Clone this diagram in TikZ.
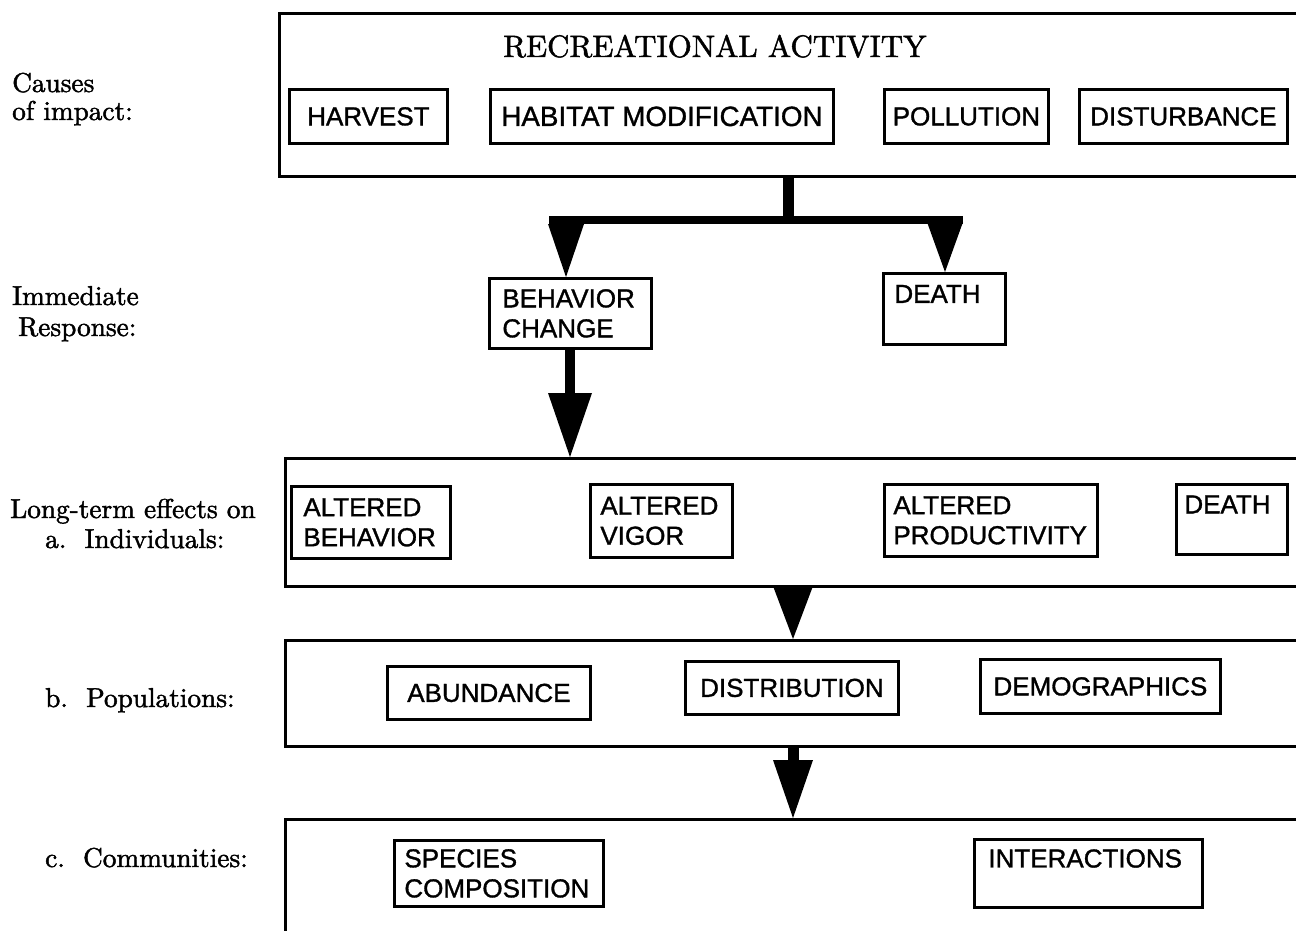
\documentclass[tikz,border=0pt]{standalone}
\usepackage{fontspec}
\setsansfont{Liberation Sans}[FakeBold=1.2]
\newfontfamily\labfont{lmroman10-regular.otf}[FakeBold=1.6]
\usetikzlibrary{arrows.meta}
\hyphenpenalty=10000
\uchyph=0
\begin{document}
\begin{tikzpicture}[x=1pt,y=-1pt,
  bigbox/.style={draw, line width=3pt, anchor=north west, inner sep=0pt, minimum width=1100pt},
  ibox/.style={draw, line width=2.8pt, anchor=north west, inner ysep=0pt, align=left, font=\sffamily\fontsize{26}{30}\selectfont},
  cbox/.style={draw, line width=2.8pt, anchor=north west, inner sep=0pt, font=\sffamily\fontsize{26}{30}\selectfont},
  lab/.style={anchor=base west, inner sep=0pt, font=\labfont\fontsize{27.3}{32}\selectfont},
  thin/.style={line width=1pt}
]
\useasboundingbox (0,0) rectangle (1296,931);
\clip (0,0) rectangle (1296,931);
\fill[white] (0,0) rectangle (1296,931);

% left labels
\node[lab] (l1a) at (12,92) {Causes};
\node[lab] (l1b) at (12,120) {of impact:};
\node[lab] (l2a) at (12,305) {Immediate};
\node[lab] (l2b) at (18,336) {Response:};
\node[lab] (l3a) at (10,518) {Long-term effects on};
\node[lab] (l3b) at (45,548) {a.\ \ Individuals:};
\node[lab] (l4) at (45,707) {b.\ \ Populations:};
\node[lab] (l5) at (45,867) {c.\ \ Communities:};

% big boxes
\node[bigbox, minimum height=163pt] (box1) at (278,12) {};
\node[bigbox, minimum height=128pt] (box2) at (284,457) {};
\node[bigbox, minimum height=106pt] (box3) at (284,639) {};
\node[bigbox, minimum height=200pt] (box4) at (284,818) {};

\node[anchor=base west, inner sep=0pt, font=\labfont\fontsize{31}{36}\selectfont] (title) at (503,57) {RECREATIONAL ACTIVITY};

% causes
\node[cbox, minimum width=158pt, minimum height=54pt] (harvest) at (288,88) {HARVEST};
\node[cbox, minimum width=343pt, minimum height=54pt, font=\sffamily\fontsize{27.8}{30}\selectfont] (habitat) at (489,88) {HABITAT MODIFICATION};
\node[cbox, minimum width=164pt, minimum height=54pt] (pollution) at (883,88) {POLLUTION};
\node[cbox, minimum width=208pt, minimum height=54pt] (disturb) at (1078,88) {DISTURBANCE};

% immediate response
\node[ibox, inner xsep=13pt, text width=136pt, minimum height=70pt] (behavior) at (488,277) {BEHAVIOR\\CHANGE};
\node[ibox, inner xsep=11pt, text width=100pt, minimum height=71pt] (death1) at (882,272) {DEATH\\\mbox{}};

% individuals
\node[ibox, inner xsep=12pt, text width=135pt, minimum height=72pt] (altbeh) at (290,485) {ALTERED\\BEHAVIOR};
\node[ibox, inner xsep=10pt, text width=122pt, minimum height=73pt] (altvig) at (589,483) {ALTERED\\VIGOR};
\node[ibox, inner xsep=9pt, text width=195pt, minimum height=72pt] (altprod) at (883,483) {ALTERED\\PRODUCTIVITY};
\node[ibox, inner xsep=8pt, text width=95pt, minimum height=70pt] (death2) at (1175,483) {DEATH\\\mbox{}};

% populations
\begin{scope}[every node/.append style={font=\sffamily\fontsize{27.3}{30}\selectfont}]
\node[cbox, minimum width=203pt, minimum height=53pt] (abund) at (386,665) {ABUNDANCE};
\node[cbox, minimum width=213pt, minimum height=53pt] (distr) at (684,660) {DISTRIBUTION};
\node[cbox, minimum width=240pt, minimum height=54pt] (demog) at (979,658) {DEMOGRAPHICS};
\end{scope}

% communities
\node[ibox, inner xsep=10pt, text width=189pt, minimum height=66pt] (species) at (393,839) {SPECIES\\COMPOSITION};
\node[ibox, inner xsep=14pt, text width=200pt, minimum height=68pt] (inter) at (973,838) {INTERACTIONS\\\mbox{}};

% connectors
\coordinate (split) at (788,220);
\coordinate (barL) at (549,220);
\coordinate (barR) at (963,220);
\coordinate (aL) at (566,220);
\coordinate (aR) at (945,220);
\coordinate (c2) at (570,400);
\coordinate (c3) at (793,700);

\draw[line width=11pt] (box1.south -| split) -- (split);
\draw[line width=8pt] (barL) -- (barR);
\draw[thin, -{Triangle[width=36pt,length=53pt,line width=0pt]}] (aL) -- (behavior.north -| aL);
\draw[thin, -{Triangle[width=36pt,length=50pt,line width=0pt]}] (aR) -- (death1.north -| aR);
\draw[line width=10pt, -{Triangle[width=44pt,length=64pt,line width=0pt]}] (behavior.south -| c2) -- (box2.north -| c2);
\draw[thin, -{Triangle[width=40pt,length=53pt,line width=0pt]}] (box2.south -| c3) -- (box3.north -| c3);
\draw[line width=11pt, -{Triangle[width=40pt,length=58pt,line width=0pt]}] (box3.south -| c3) -- (box4.north -| c3);
\end{tikzpicture}
\end{document}
